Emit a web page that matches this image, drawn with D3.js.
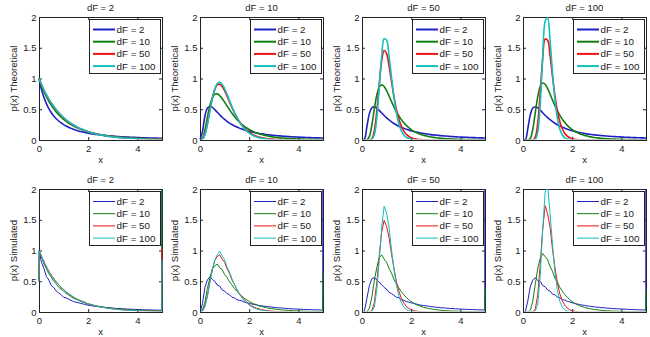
<!DOCTYPE html>
<html lang="en">
<head>
<meta charset="UTF-8">
<title>F distribution: theoretical vs simulated</title>
<script src="https://d3js.org/d3.v7.min.js"></script>
<style>
    body { margin: 0; background: #fff; }
    text { font-family: "Liberation Sans", Arial, Helvetica, sans-serif; font-size: 9.5px; fill: #1a1a1a; }
    .legend text { font-size: 9.8px; }
</style>
</head>
<body>
<div id="chart"></div>
<script>
// numerator dF per column, denominator dF per line
var columnDF = [2, 10, 50, 100];
var lineDF = [2, 10, 50, 100];
var lineColors = ['#1f1fc8', '#0f800f', '#ee1111', '#11bfbf'];
var xTicks = [0, 2, 4];
var yTicks = [0, 0.5, 1, 1.5, 2];

// x positions of the theoretical curves
var thX = [0,
    0.1, 0.2, 0.3, 0.4, 0.5, 0.6, 0.7, 0.8, 0.9, 1,
    1.1, 1.2, 1.3, 1.4, 1.5, 1.6, 1.7, 1.8, 1.9, 2,
    2.1, 2.2, 2.3, 2.4, 2.5, 2.6, 2.7, 2.8, 2.9, 3,
    3.1, 3.2, 3.3, 3.4, 3.5, 3.6, 3.7, 3.8, 3.9, 4,
    4.1, 4.2, 4.3, 4.4, 4.5, 4.6, 4.7, 4.8, 4.9, 5];

// histogram bin positions of the simulated curves (first and last bins at the edges)
var simX = [0, 0.01,
    0.1, 0.2, 0.3, 0.4, 0.5, 0.6, 0.7, 0.8, 0.9, 1,
    1.1, 1.2, 1.3, 1.4, 1.5, 1.6, 1.7, 1.8, 1.9, 2,
    2.1, 2.2, 2.3, 2.4, 2.5, 2.6, 2.7, 2.8, 2.9, 3,
    3.1, 3.2, 3.3, 3.4, 3.5, 3.6, 3.7, 3.8, 3.9, 4,
    4.1, 4.2, 4.3, 4.4, 4.5, 4.6, 4.7, 4.8, 4.9, 4.99, 5];

// theoretical densities, dF1 = 2
var theo2_2 = [1,
    .826, .694, .592, .510, .444, .391, .346, .309, .277, .250,
    .227, .207, .189, .174, .160, .148, .137, .128, .119, .111,
    .104, .098, .092, .087, .082, .077, .073, .069, .066, .063,
    .059, .057, .054, .052, .049, .047, .045, .043, .042, .040,
    .038, .037, .036, .034, .033, .032, .031, .030, .029, .028];
var theo2_10 = [1,
    .888, .790, .705, .630, .565, .507, .456, .410, .370, .335,
    .303, .275, .250, .227, .207, .189, .173, .158, .145, .133,
    .122, .112, .103, .095, .088, .081, .075, .069, .064, .060,
    .055, .051, .048, .045, .041, .039, .036, .034, .031, .029,
    .028, .026, .024, .023, .021, .020, .019, .018, .017, .016];
var theo2_50 = [1,
    .901, .813, .733, .662, .598, .540, .488, .441, .399, .361,
    .326, .296, .268, .243, .220, .199, .181, .164, .149, .135,
    .123, .112, .101, .092, .084, .076, .069, .063, .058, .053,
    .048, .044, .040, .036, .033, .030, .028, .025, .023, .021,
    .019, .018, .016, .015, .014, .012, .011, .010, .010, .009];
var theo2_100 = [1,
    .903, .816, .737, .666, .602, .544, .492, .445, .403, .364,
    .330, .298, .270, .245, .221, .201, .182, .165, .149, .135,
    .123, .111, .101, .092, .083, .075, .068, .062, .056, .051,
    .047, .042, .038, .035, .032, .029, .026, .024, .022, .020,
    .018, .016, .015, .014, .012, .011, .010, .009, .009, .008];

// theoretical densities, dF1 = 10
var theo10_2 = [0,
    .137, .391, .518, .549, .531, .494, .452, .410, .370, .335,
    .303, .275, .251, .229, .210, .193, .178, .164, .152, .141,
    .131, .123, .115, .107, .101, .095, .089, .084, .080, .075,
    .072, .068, .065, .061, .059, .056, .053, .051, .049, .047,
    .045, .043, .041, .040, .038, .037, .035, .034, .033, .032];
var theo10_10 = [0,
    .024, .163, .370, .558, .683, .743, .750, .723, .674, .615,
    .553, .492, .434, .382, .334, .293, .256, .223, .195, .171,
    .150, .131, .115, .101, .089, .079, .070, .062, .055, .049,
    .044, .039, .035, .032, .028, .026, .023, .021, .019, .017,
    .015, .014, .012, .011, .010, .010, .009, .008, .007, .007];
var theo10_50 = [0,
    .011, .094, .268, .484, .681, .822, .896, .907, .870, .801,
    .714, .621, .529, .443, .367, .300, .244, .196, .158, .126,
    .100, .079, .062, .049, .039, .030, .024, .019, .015, .012,
    .009, .007, .006, .004, .004, .003, .002, .002, .001, .001,
    .001, .001, .001, 0, 0, 0, 0, 0, 0, 0];
var theo10_100 = [0,
    .009, .085, .252, .468, .675, .831, .919, .940, .906, .836,
    .744, .643, .543, .450, .367, .296, .235, .185, .144, .112,
    .086, .066, .050, .038, .029, .022, .016, .012, .009, .007,
    .005, .004, .003, .002, .002, .001, .001, .001, 0, 0,
    0, 0, 0, 0, 0, 0, 0, 0, 0, 0];

// theoretical densities, dF1 = 50
var theo50_2 = [0,
    .016, .218, .429, .524, .541, .519, .481, .440, .399, .361,
    .327, .296, .269, .245, .224, .206, .189, .174, .161, .149,
    .139, .129, .121, .113, .106, .100, .094, .088, .083, .079,
    .075, .071, .067, .064, .061, .058, .055, .053, .050, .048,
    .046, .044, .043, .041, .039, .038, .036, .035, .034, .033];
var theo50_10 = [0,
    0, .003, .058, .242, .502, .728, .859, .897, .869, .801,
    .715, .624, .538, .459, .391, .331, .280, .237, .201, .170,
    .145, .123, .105, .090, .077, .067, .057, .050, .043, .038,
    .033, .029, .025, .022, .020, .017, .015, .014, .012, .011,
    .010, .009, .008, .007, .006, .006, .005, .005, .004, .004];
var theo50_50 = [0,
    0, 0, .001, .022, .148, .466, .909, 1.286, 1.455, 1.403,
    1.205, .950, .703, .496, .337, .223, .145, .093, .059, .037,
    .023, .014, .009, .006, .004, .002, .001, .001, 0, 0,
    0, 0, 0, 0, 0, 0, 0, 0, 0, 0,
    0, 0, 0, 0, 0, 0, 0, 0, 0, 0];
var theo50_100 = [0,
    0, 0, 0, .009, .084, .352, .840, 1.354, 1.645, 1.623,
    1.366, 1.020, .692, .437, .260, .148, .081, .043, .023, .012,
    .006, .003, .001, .001, 0, 0, 0, 0, 0, 0,
    0, 0, 0, 0, 0, 0, 0, 0, 0, 0,
    0, 0, 0, 0, 0, 0, 0, 0, 0, 0];

// theoretical densities, dF1 = 100
var theo100_2 = [0,
    .009, .194, .413, .519, .541, .522, .485, .444, .402, .364,
    .330, .299, .272, .248, .226, .207, .191, .176, .162, .151,
    .140, .130, .122, .114, .107, .100, .094, .089, .084, .079,
    .075, .071, .068, .064, .061, .058, .056, .053, .051, .049,
    .047, .045, .043, .041, .039, .038, .037, .035, .034, .033];
var theo100_10 = [0,
    0, 0, .029, .181, .447, .704, .868, .927, .906, .837,
    .745, .649, .556, .472, .399, .336, .283, .238, .200, .169,
    .143, .121, .103, .088, .075, .064, .055, .048, .041, .036,
    .031, .027, .024, .021, .019, .016, .014, .013, .011, .010,
    .009, .008, .007, .006, .006, .005, .005, .004, .004, .003];
var theo100_50 = [0,
    0, 0, 0, .002, .046, .277, .773, 1.327, 1.642, 1.623,
    1.369, 1.031, .716, .469, .294, .179, .107, .063, .036, .021,
    .012, .007, .004, .002, .001, 0, 0, 0, 0, 0,
    0, 0, 0, 0, 0, 0, 0, 0, 0, 0,
    0, 0, 0, 0, 0, 0, 0, 0, 0, 0];
var theo100_100 = [0,
    0, 0, 0, 0, .011, .132, .584, 1.337, 1.925, 1.990,
    1.615, 1.095, .649, .348, .172, .081, .036, .016, .007, .003,
    .001, 0, 0, 0, 0, 0, 0, 0, 0, 0,
    0, 0, 0, 0, 0, 0, 0, 0, 0, 0,
    0, 0, 0, 0, 0, 0, 0, 0, 0, 0];

// simulated histograms, dF1 = 2 (last bin holds everything past x = 5)
var sim2_2 = [.5, .98,
    .81, .71, .58, .52, .43, .40, .34, .31, .28, .24,
    .23, .21, .19, .17, .16, .15, .14, .13, .12, .11,
    .105, .097, .093, .086, .083, .076, .074, .068, .067, .062,
    .060, .056, .058, .052, .050, .048, .046, .044, .043, .039,
    .039, .037, .036, .035, .034, .032, .032, .030, .029, .028, 16.7];
var sim2_10 = [.5, .995,
    .90, .78, .71, .62, .57, .50, .46, .40, .37, .34,
    .30, .28, .25, .22, .21, .19, .17, .16, .14, .13,
    .123, .111, .104, .094, .089, .080, .076, .068, .065, .059,
    .056, .050, .049, .044, .042, .038, .037, .033, .032, .029,
    .028, .026, .024, .023, .021, .020, .019, .018, .017, .016, 3.1];
var sim2_50 = [.5, .99,
    .89, .83, .72, .67, .59, .55, .48, .45, .39, .37,
    .32, .30, .27, .24, .22, .20, .18, .17, .15, .13,
    .12, .11, .10, .09, .085, .075, .07, .062, .058, .052,
    .049, .043, .041, .035, .034, .03, .028, .024, .023, .021,
    .019, .017, .016, .015, .013, .012, .011, .010, .009, .009, 1.05];
var sim2_100 = [.5, .99,
    .92, .80, .75, .65, .61, .53, .50, .44, .41, .36,
    .33, .30, .27, .25, .22, .20, .18, .17, .15, .13,
    .125, .11, .10, .09, .083, .076, .067, .063, .055, .051,
    .046, .043, .037, .035, .031, .029, .026, .024, .021, .02,
    .018, .016, .015, .013, .012, .011, .010, .009, .009, .008, .85];

// simulated histograms, dF1 = 10
var sim10_2 = [0, 0,
    .14, .40, .52, .57, .53, .50, .44, .42, .36, .34,
    .30, .28, .24, .23, .20, .19, .18, .16, .15, .14,
    .132, .121, .116, .105, .102, .093, .090, .083, .081, .074,
    .072, .067, .066, .060, .059, .055, .053, .050, .049, .046,
    .045, .042, .041, .040, .038, .036, .035, .034, .033, .032, 17.8];
var sim10_10 = [0, 0,
    .03, .16, .38, .55, .70, .75, .78, .72, .69, .61,
    .56, .49, .44, .38, .34, .29, .26, .22, .20, .17,
    .15, .13, .12, .10, .09, .08, .07, .06, .055, .05,
    .044, .04, .035, .031, .029, .025, .023, .021, .019, .017,
    .016, .014, .012, .011, .010, .010, .009, .008, .007, .007, .65];
var sim10_50 = [0, 0,
    .01, .10, .26, .49, .68, .84, .90, .93, .86, .81,
    .70, .63, .52, .45, .36, .30, .24, .20, .16, .12,
    .10, .08, .06, .05, .04, .03, .024, .019, .015, .012,
    .009, .007, .006, .004, .004, .003, .002, .002, .001, .001,
    .001, .001, .001, 0, 0, 0, 0, 0, 0, 0, 0];
var sim10_100 = [0, 0,
    .01, .09, .25, .47, .69, .84, .93, .99, .91, .85,
    .73, .65, .54, .45, .37, .29, .24, .18, .15, .11,
    .086, .066, .05, .038, .029, .022, .016, .012, .009, .007,
    .005, .004, .003, .002, .002, .001, .001, .001, 0, 0,
    0, 0, 0, 0, 0, 0, 0, 0, 0, 0, 0];

// simulated histograms, dF1 = 50
var sim50_2 = [0, 0,
    .02, .22, .43, .54, .56, .52, .49, .44, .40, .37,
    .32, .30, .27, .24, .23, .20, .19, .17, .16, .15,
    .14, .13, .12, .11, .105, .10, .095, .087, .084, .078,
    .076, .07, .068, .063, .061, .057, .056, .052, .05, .048,
    .046, .044, .042, .041, .039, .038, .036, .035, .034, .033, 18];
var sim50_10 = [0, 0,
    0, .004, .06, .24, .51, .72, .88, .93, .86, .81,
    .71, .63, .53, .46, .39, .33, .28, .24, .20, .17,
    .145, .12, .105, .09, .077, .067, .057, .05, .043, .038,
    .033, .029, .025, .022, .02, .017, .015, .014, .012, .011,
    .01, .009, .008, .007, .006, .006, .005, .005, .004, .004, .38];
var sim50_50 = [0, 0,
    0, 0, .001, .02, .15, .47, .92, 1.30, 1.49, 1.39,
    1.21, .94, .71, .49, .34, .22, .15, .09, .06, .037,
    .023, .014, .009, .006, .004, .002, .001, .001, 0, 0,
    0, 0, 0, 0, 0, 0, 0, 0, 0, 0,
    0, 0, 0, 0, 0, 0, 0, 0, 0, 0, 0];
var sim50_100 = [0, 0,
    0, 0, 0, .01, .08, .36, .83, 1.37, 1.72, 1.61,
    1.38, 1.01, .70, .43, .26, .15, .08, .043, .023, .012,
    .006, .003, .001, .001, 0, 0, 0, 0, 0, 0,
    0, 0, 0, 0, 0, 0, 0, 0, 0, 0,
    0, 0, 0, 0, 0, 0, 0, 0, 0, 0, 0];

// simulated histograms, dF1 = 100
var sim100_2 = [0, 0,
    .01, .19, .42, .52, .56, .51, .50, .43, .41, .36,
    .34, .29, .28, .24, .23, .20, .195, .17, .165, .15,
    .14, .128, .123, .112, .108, .099, .096, .087, .085, .078,
    .076, .07, .069, .063, .062, .057, .056, .052, .051, .048,
    .047, .044, .043, .04, .039, .037, .037, .034, .034, .033, 18.1];
var sim100_10 = [0, 0,
    0, 0, .03, .18, .45, .71, .87, .95, .90, .85,
    .74, .66, .55, .48, .40, .34, .28, .24, .20, .17,
    .143, .121, .103, .088, .075, .064, .055, .048, .041, .036,
    .031, .027, .024, .021, .019, .016, .014, .013, .011, .01,
    .009, .008, .007, .006, .006, .005, .005, .004, .004, .003, .34];
var sim100_50 = [0, 0,
    0, 0, 0, .002, .05, .28, .78, 1.34, 1.73, 1.60,
    1.38, 1.02, .72, .47, .29, .18, .11, .063, .036, .021,
    .012, .007, .004, .002, .001, 0, 0, 0, 0, 0,
    0, 0, 0, 0, 0, 0, 0, 0, 0, 0,
    0, 0, 0, 0, 0, 0, 0, 0, 0, 0, 0];
var sim100_100 = [0, 0,
    0, 0, 0, 0, .012, .13, .59, 1.33, 1.95, 2.05,
    1.60, 1.10, .64, .35, .17, .08, .036, .016, .007, .003,
    .001, 0, 0, 0, 0, 0, 0, 0, 0, 0,
    0, 0, 0, 0, 0, 0, 0, 0, 0, 0,
    0, 0, 0, 0, 0, 0, 0, 0, 0, 0, 0];

var theory = [
    [theo2_2, theo2_10, theo2_50, theo2_100],
    [theo10_2, theo10_10, theo10_50, theo10_100],
    [theo50_2, theo50_10, theo50_50, theo50_100],
    [theo100_2, theo100_10, theo100_50, theo100_100]
];
var simulated = [
    [sim2_2, sim2_10, sim2_50, sim2_100],
    [sim10_2, sim10_10, sim10_50, sim10_100],
    [sim50_2, sim50_10, sim50_50, sim50_100],
    [sim100_2, sim100_10, sim100_50, sim100_100]
];

//Ve the svg
var p = {
    width: 650,
    height: 337,
    plotW: 123,
    plotH: 123,
    lefts: [39, 200, 362, 523],
    legendW: 71,
    legendH: 54,
    tick: 3
};

var rows = [
    { top: 17, label: 'p(x) Theoretical', xs: thX, data: theory, lineW: 1.6, curve: d3.curveCatmullRom },
    { top: 189, label: 'p(x) Simulated', xs: simX, data: simulated, lineW: 1, curve: d3.curveLinear }
];

// plain tick labels: 0, 0.5, 1, 1.5, 2
var tickFmt = function(d) { return String(d); };

var svg = d3.select('#chart')
    .append('svg')
    .attr('width', p.width)
    .attr('height', p.height);

svg.append('rect')
    .attr('width', p.width)
    .attr('height', p.height)
    .attr('fill', '#fff');

var defs = svg.append('defs');

rows.forEach(function(row, r) {
    columnDF.forEach(function(df, c) {
        var x0 = p.lefts[c], y0 = row.top;
        var x = d3.scaleLinear().domain([0, 5]).range([x0, x0 + p.plotW]);
        var y = d3.scaleLinear().domain([0, 2]).range([y0 + p.plotH, y0]);
        var g = svg.append('g');

        // box
        g.append('rect')
            .attr('x', x0 + 0.5)
            .attr('y', y0 + 0.5)
            .attr('width', p.plotW)
            .attr('height', p.plotH)
            .attr('fill', 'none')
            .attr('stroke', '#222')
            .attr('stroke-width', 1);

        // ticks point inward on all four sides
        var axB = g.append('g').attr('transform', 'translate(0,' + (y0 + p.plotH) + ')')
            .call(d3.axisBottom(x).tickValues(xTicks).tickFormat(tickFmt)
                .tickSizeInner(-p.tick).tickSizeOuter(0).tickPadding(4.8));
        var axT = g.append('g').attr('transform', 'translate(0,' + y0 + ')')
            .call(d3.axisTop(x).tickValues(xTicks).tickSizeInner(-p.tick).tickSizeOuter(0).tickFormat(''));
        var axL = g.append('g').attr('transform', 'translate(' + x0 + ',0)')
            .call(d3.axisLeft(y).tickValues(yTicks).tickFormat(tickFmt)
                .tickSizeInner(-p.tick).tickSizeOuter(0).tickPadding(2.5));
        var axR = g.append('g').attr('transform', 'translate(' + (x0 + p.plotW) + ',0)')
            .call(d3.axisRight(y).tickValues(yTicks).tickSizeInner(-p.tick).tickSizeOuter(0).tickFormat(''));
        [axB, axT, axL, axR].forEach(function(a) {
            a.attr('color', '#222').attr('font-size', null).attr('font-family', null);
            a.select('.domain').remove();
        });

        // titles
        g.append('text')
            .attr('x', x0 + p.plotW / 2)
            .attr('y', y0 - 6)
            .attr('text-anchor', 'middle')
            .text('dF = ' + df);
        g.append('text')
            .attr('x', x0 + p.plotW / 2)
            .attr('y', y0 + p.plotH + 23)
            .attr('text-anchor', 'middle')
            .text('x');
        g.append('text')
            .attr('transform', 'translate(' + (x0 - 22.5) + ',' + (y0 + p.plotH / 2) + ') rotate(-90)')
            .attr('text-anchor', 'middle')
            .text(row.label);

        // curves
        var clipId = 'clip' + r + '_' + c;
        defs.append('clipPath').attr('id', clipId)
            .append('rect')
            .attr('x', x0 - 1)
            .attr('y', y0)
            .attr('width', p.plotW + 2.5)
            .attr('height', p.plotH - 0.8);

        var line = d3.line()
            .x(function(d, i) { return x(row.xs[i]); })
            .y(function(d) { return y(d); })
            .curve(row.curve);

        g.append('g')
            .attr('clip-path', 'url(#' + clipId + ')')
            .selectAll('path')
            .data(row.data[c])
            .enter()
            .append('path')
            .attr('d', line)
            .attr('fill', 'none')
            .attr('stroke', function(d, i) { return lineColors[i]; })
            .attr('stroke-width', row.lineW)
            .attr('stroke-linejoin', 'round');

        // legend
        var lx = x0 + p.plotW - 2 - p.legendW, ly = y0 + 2;
        var leg = g.append('g').attr('class', 'legend')
            .attr('transform', 'translate(' + lx + ',' + ly + ')');
        leg.append('rect')
            .attr('x', 0.5)
            .attr('y', 0.5)
            .attr('width', p.legendW)
            .attr('height', p.legendH)
            .attr('fill', '#fff')
            .attr('stroke', '#222');
        lineDF.forEach(function(d2, i) {
            var ry = 10.5 + i * 12.2;
            leg.append('line')
                .attr('x1', 4).attr('x2', 26)
                .attr('y1', ry).attr('y2', ry)
                .attr('stroke', lineColors[i])
                .attr('stroke-width', row.lineW === 1 ? 1 : 2);
            leg.append('text')
                .attr('x', 27.5)
                .attr('y', ry + 3.5)
                .text('dF = ' + d2);
        });
    });
});
</script>
</body>
</html>
